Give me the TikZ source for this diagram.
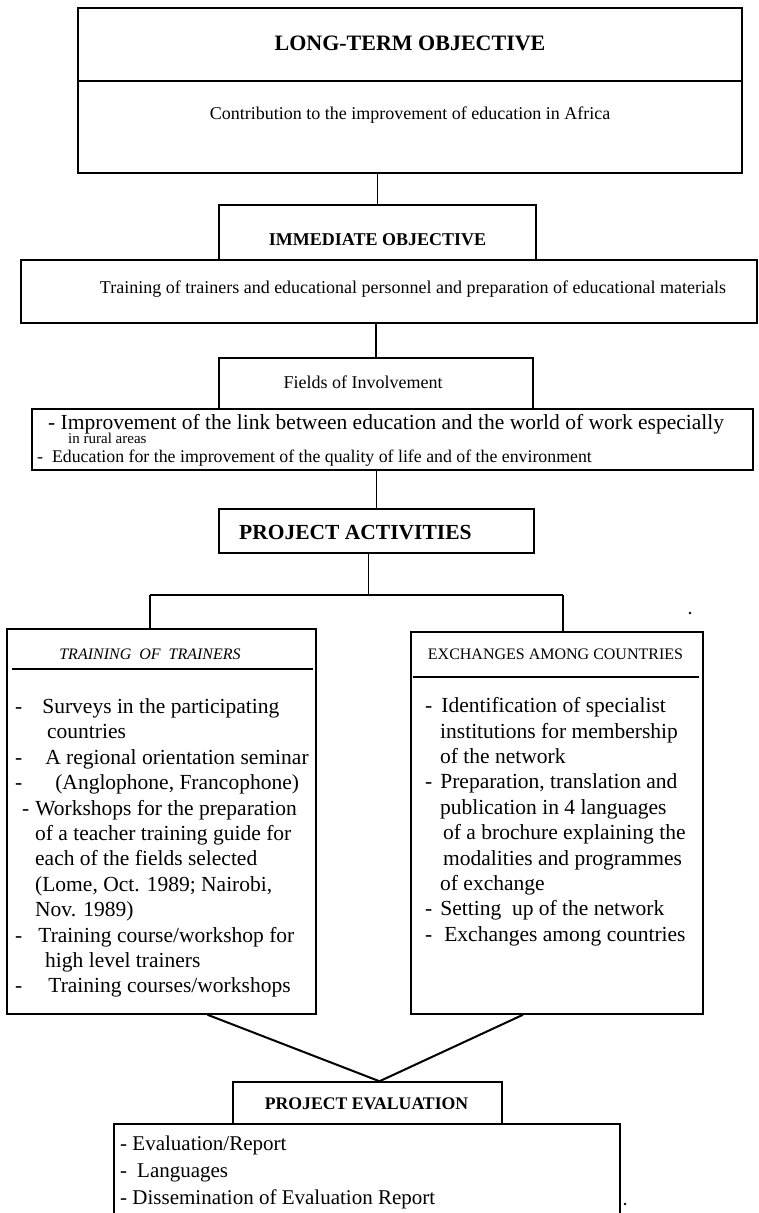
\documentclass[tikz,border=0pt]{standalone}
\usepackage{fontspec}
\setmainfont{Liberation Serif}
\usetikzlibrary{calc}

\tikzset{
	box/.style={draw, line width=1.5pt, inner sep=0pt},
	lbl/.style={inner sep=0pt, anchor=base},
	link/.style={line width=1.5pt},
}
\newcommand{\fs}[2]{\fontsize{#1}{#2}\selectfont}

\begin{document}
\begin{tikzpicture}[x=1pt, y=-1pt]
			%%%%% START %%%%%
			\useasboundingbox (0,0) rectangle (759,1213);
			
			\node[box, minimum width=664pt, minimum height=165pt] (lto) at (410,90.5) {};
			\draw[link] (78,81) -- (742,81);
			\node[lbl, font=\fs{22}{26}\bfseries] (ltotitle) at (410,50) {LONG-TERM OBJECTIVE};
			\node[lbl, font=\fs{18}{22}] (ltotext) at (410,119) {Contribution to the improvement of education in Africa};
			
			\node[box, minimum width=317pt, minimum height=55pt] (imm) at (377.5,232.5) {};
			\node[lbl, font=\fs{18}{22}\bfseries] (immtitle) at (377.5,245) {IMMEDIATE OBJECTIVE};
			\draw[link] (imm.north) -- (imm.north |- lto.south);
			
			\node[box, minimum width=736pt, minimum height=63pt] (immbox) at (389,291.5) {};
			\node[lbl, font=\fs{18}{22}] (immtext) at (413,293) {Training of trainers and educational personnel and preparation of educational materials};
			
			\node[box, minimum width=314pt, minimum height=51pt] (fields) at (376,383.5) {};
			\node[lbl, font=\fs{18}{22}] (fieldstext) at (363,388) {Fields of Involvement};
			\draw[link] (fields.north) -- (fields.north |- immbox.south);
			
			\node[box, minimum width=721pt, minimum height=61pt] (inv) at (392.5,439.5) {};
			\node[lbl, anchor=base west, font=\fs{21.5}{24}] (inv1) at (48,429) {- Improvement of the link between education and the world of work especially};
			\node[lbl, anchor=base west, font=\fs{15}{18}] (inv2) at (68,443) {in rural areas};
			\node[lbl, anchor=base west, font=\fs{17.8}{22}] (inv3) at (37,462) {-\ \ Education for the improvement of the quality of life and of the environment};
			
			\node[box, minimum width=315pt, minimum height=44pt] (pa) at (376.5,531) {};
			\node[lbl, anchor=base west, font=\fs{21.5}{26}\bfseries] (patext) at (239,539) {PROJECT ACTIVITIES};
			\draw[link] (pa.north) -- (pa.north |- inv.south);
			
			\coordinate (jl) at (150,595);
			\coordinate (jr) at (563,595);
			\coordinate (pasplit) at ([xshift=-8pt]pa.south);
			\draw[link] (pasplit) -- (pasplit |- jl);
			\draw[link] (jl) -- (jr);
			
			\node[box, minimum width=309pt, minimum height=385pt] (tot) at (161.5,821.5) {};
			\node[box, minimum width=292pt, minimum height=382pt] (exc) at (557,823) {};
			\draw[link] (jl) -- (jl |- tot.north);
			\draw[link] (jr) -- (jr |- exc.north);
			
			\node[lbl, font=\fs{16}{20}\itshape] (tottitle) at (150,659) {TRAINING\ \ OF\ \ TRAINERS};
			\draw[link] (12,669) -- (313,669);
			\node[lbl, font=\fs{16}{20}] (exctitle) at (555.5,659) {EXCHANGES AMONG COUNTRIES};
			\draw[link] (413,677) -- (699,677);
			
			\node[inner sep=0pt, anchor=north west, align=left, font=\fs{21.5}{25.4}] (totlist) at (15,698.3) {%
				-\hspace*{20pt}Surveys in the participating\\
				\hspace*{32pt}countries\\
				-\hspace*{23pt}A regional orientation seminar\\
				-\hspace*{33pt}(Anglophone, Francophone)\\
				\hspace*{7pt}-\hspace*{6pt}Workshops for the preparation\\
				\hspace*{20pt}of a teacher training guide for\\
				\hspace*{20pt}each of the fields selected\\
				\hspace*{20pt}(Lome, Oct. 1989; Nairobi,\\
				\hspace*{20pt}Nov. 1989)\\
				-\hspace*{16pt}Training course/workshop for\\
				\hspace*{30pt}high level trainers\\
				-\hspace*{26pt}Training courses/workshops};
			
			\node[inner sep=0pt, anchor=north west, align=left, font=\fs{21.5}{25.4}] (exclist) at (425,697.3) {%
				-\hspace*{9pt}Identification of specialist\\
				\hspace*{15pt}institutions for membership\\
				\hspace*{15pt}of the network\\
				-\hspace*{8pt}Preparation, translation and\\
				\hspace*{15pt}publication in 4 languages\\
				\hspace*{18pt}of a brochure explaining the\\
				\hspace*{18pt}modalities and programmes\\
				\hspace*{15pt}of exchange\\
				-\hspace*{8pt}Setting\ \ up of the network\\
				-\hspace*{12pt}Exchanges among countries};
			
			\node[box, minimum width=269pt, minimum height=42pt] (pe) at (367.5,1103) {};
			\node[lbl, font=\fs{17.7}{22}\bfseries] (petext) at (366.5,1109) {PROJECT EVALUATION};
			\coordinate (apex) at ([xshift=12pt]pe.north);
			\draw[line width=2pt] ([xshift=46pt]tot.south) -- (apex) -- ([xshift=-34pt]exc.south);
			
			\node[box, minimum width=506pt, minimum height=110pt] (evb) at (367,1179) {};
			\node[inner sep=0pt, anchor=north west, align=left, font=\fs{21}{27}] (evlist) at (120,1135.5) {%
				- Evaluation/Report\\
				-\hspace*{10pt}Languages\\
				- Dissemination of Evaluation Report};
			
			\fill (690,613) circle (1.3);
			\fill (625,1204) circle (1.3);
			%%%%% END %%%%%
\end{tikzpicture}
\end{document}
